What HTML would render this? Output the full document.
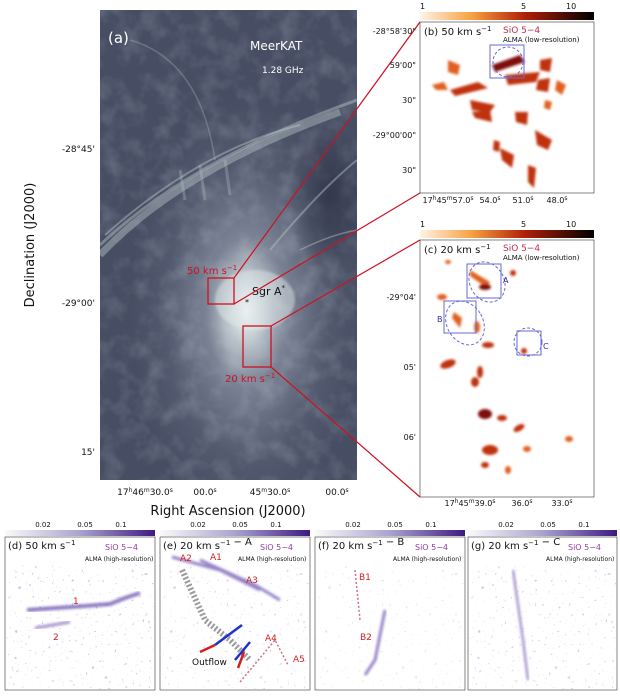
<!DOCTYPE html>
<html><head><meta charset="utf-8"><style>
body{margin:0;background:#fff;width:620px;height:692px;overflow:hidden;font-family:"Liberation Sans",sans-serif}
svg text{font-family:"DejaVu Sans","Liberation Sans",sans-serif}
</style></head><body>
<svg width="620" height="692" viewBox="0 0 620 692" xmlns="http://www.w3.org/2000/svg">
<defs>
<radialGradient id="glow" cx="0.57" cy="0.64" r="0.45">
<stop offset="0" stop-color="#eef3f3"/><stop offset="0.12" stop-color="#c8d2d6"/><stop offset="0.35" stop-color="#7a8294"/><stop offset="0.7" stop-color="#535a6f"/><stop offset="1" stop-color="#474d63"/>
</radialGradient>
<radialGradient id="dark" cx="0.5" cy="0.5" r="0.5"><stop offset="0" stop-color="#2a2f42" stop-opacity="0.75"/><stop offset="1" stop-color="#2a2f42" stop-opacity="0"/></radialGradient>
<linearGradient id="orng" x1="0" x2="1"><stop offset="0" stop-color="#fff4e6"/><stop offset="0.3" stop-color="#f7a040"/><stop offset="0.6" stop-color="#b02008"/><stop offset="1" stop-color="#000"/></linearGradient>
<linearGradient id="purp" x1="0" x2="1"><stop offset="0" stop-color="#fafafa"/><stop offset="0.5" stop-color="#a9a3d0"/><stop offset="1" stop-color="#3f1a80"/></linearGradient>
<filter id="tex" x="0" y="0" width="1" height="1"><feTurbulence type="fractalNoise" baseFrequency="0.05" numOctaves="3" seed="3"/><feColorMatrix values="0 0 0 0 0.8  0 0 0 0 0.86  0 0 0 0 0.9  0 0 0 1.2 -0.5"/></filter>
<filter id="spk" x="0" y="0" width="1" height="1"><feTurbulence type="fractalNoise" baseFrequency="0.3" numOctaves="2" seed="7"/><feColorMatrix values="0 0 0 0 0.45  0 0 0 0 0.4  0 0 0 0 0.75  0 0 0 9 -6.3"/></filter>
<filter id="bl"><feGaussianBlur stdDeviation="1.2"/></filter>
<clipPath id="ca"><rect x="100" y="10" width="257" height="470"/></clipPath>
</defs>
<!-- panel a -->
<rect x="100" y="10" width="257" height="470" fill="url(#glow)"/>
<g clip-path="url(#ca)">
<rect x="100" y="10" width="257" height="470" filter="url(#tex)" opacity="0.3"/>
<ellipse cx="330" cy="200" rx="40" ry="75" fill="url(#dark)"/>
<g fill="none" stroke="#b8c6c8" stroke-opacity="0.45">
<path d="M100 255 Q180 170 340 112" stroke-width="7"/>
<path d="M100 245 Q190 160 357 100" stroke-width="3"/>
<path d="M105 235 Q200 150 300 125" stroke-width="2"/>
<path d="M270 250 Q320 190 357 160" stroke-width="2"/>
<path d="M300 250 Q330 235 357 230" stroke-width="1.5"/>
<path d="M130 40 Q200 60 215 160" stroke-width="1.5" stroke-opacity="0.3"/>
<path d="M180 170 L185 200 M200 165 L205 200 M225 160 L230 195" stroke-width="3" stroke-opacity="0.3"/>
</g>
<ellipse cx="255" cy="300" rx="40" ry="30" fill="#e6eeee" opacity="0.45" filter="url(#bl)"/>
</g>
<text x="108" y="43" fill="#fff" font-size="15">(a)</text>
<text x="250" y="50" fill="#fff" font-size="12">MeerKAT</text>
<text x="262" y="73" fill="#fff" font-size="9">1.28 GHz</text>
<text x="252" y="295" fill="#111" font-size="11">Sgr A<tspan font-size="7" dy="-5">*</tspan></text>
<text x="245" y="305" fill="#111" font-size="8">*</text>
<text x="187" y="274" fill="#d01020" font-size="10">50 km s<tspan font-size="7" dy="-4">−1</tspan></text>
<text x="225" y="382" fill="#d01020" font-size="10">20 km s<tspan font-size="7" dy="-4">−1</tspan></text>
<rect x="208" y="278" width="26" height="26" fill="none" stroke="#d01020" stroke-width="1.3"/>
<rect x="243" y="326" width="28" height="41" fill="none" stroke="#d01020" stroke-width="1.3"/>
<g stroke="#d01020" stroke-width="1.2">
<line x1="234" y1="278" x2="420" y2="22"/><line x1="234" y1="304" x2="420" y2="193"/>
<line x1="271" y1="326" x2="420" y2="240"/><line x1="271" y1="367" x2="420" y2="497"/>
</g>
<g font-size="9" fill="#111">
<text x="95" y="152" text-anchor="end">-28°45'</text>
<text x="95" y="306" text-anchor="end">-29°00'</text>
<text x="95" y="455" text-anchor="end">15'</text>
<text x="145" y="495" text-anchor="middle">17<tspan font-size="6" dy="-3">h</tspan><tspan dy="3">46</tspan><tspan font-size="6" dy="-3">m</tspan><tspan dy="3">30.0</tspan><tspan font-size="6" dy="-3">s</tspan></text>
<text x="205" y="495" text-anchor="middle">00.0<tspan font-size="6" dy="-3">s</tspan></text>
<text x="270" y="495" text-anchor="middle">45<tspan font-size="6" dy="-3">m</tspan><tspan dy="3">30.0</tspan><tspan font-size="6" dy="-3">s</tspan></text>
<text x="337" y="495" text-anchor="middle">00.0<tspan font-size="6" dy="-3">s</tspan></text>
</g>
<text x="228" y="515" text-anchor="middle" font-size="13" fill="#111">Right Ascension (J2000)</text>
<text x="34" y="245" text-anchor="middle" font-size="13" fill="#111" transform="rotate(-90 34 245)">Declination (J2000)</text>
<!-- panel b -->
<rect x="420" y="12" width="174" height="8" fill="url(#orng)"/>
<g font-size="8" fill="#111"><text x="420" y="9">1</text><text x="521" y="9">5</text><text x="566" y="9">10</text></g>
<rect x="420" y="22" width="174" height="171" fill="#fff" stroke="#333" stroke-width="0.6"/>
<g fill="#c03010" filter="url(#bl)">
<path d="M492 65 L520 55 L525 62 L495 72Z" fill="#801008"/>
<path d="M450 90 L478 82 L488 88 L455 96Z"/><path d="M432 85 L444 82 L448 90 L436 90Z" fill="#e06020"/>
<path d="M470 100 L495 105 L490 112 L472 110Z"/><path d="M472 112 L490 110 L492 122 L475 118Z"/>
<path d="M515 112 L528 112 L527 125 L516 122Z"/><path d="M535 130 L552 140 L548 150 L537 145Z"/>
<path d="M500 148 L514 155 L512 168 L502 160Z"/><path d="M528 165 L536 168 L534 188 L528 182Z"/>
<path d="M448 60 L460 65 L458 75 L448 72Z" fill="#e06020"/><path d="M540 60 L552 58 L550 72 L540 70Z"/>
<path d="M505 75 L540 72 L536 82 L508 85Z"/><path d="M557 80 L566 85 L562 95 L555 90Z" fill="#e06020"/>
<path d="M538 80 L550 78 L548 92 L536 90Z"/><path d="M494 140 L500 142 L499 152 L493 150Z"/>
<path d="M545 100 L552 102 L550 110 L544 108Z" fill="#e06020"/>
</g>
<rect x="490" y="45" width="34" height="33" fill="none" stroke="#6a6ad0" stroke-width="1"/>
<circle cx="508" cy="62" r="15" fill="none" stroke="#6a6ad0" stroke-dasharray="3 2"/>
<text x="424" y="35" font-size="10" fill="#111">(b) 50 km s<tspan font-size="7" dy="-4">−1</tspan></text>
<text x="503" y="33" font-size="9" fill="#c03050">SiO 5−4</text>
<text x="503" y="42" font-size="7" fill="#111">ALMA (low-resolution)</text>
<g font-size="8" fill="#111">
<text x="416" y="34" text-anchor="end">-28°58'30"</text><text x="416" y="68" text-anchor="end">59'00"</text>
<text x="416" y="103" text-anchor="end">30"</text><text x="416" y="138" text-anchor="end">-29°00'00"</text>
<text x="416" y="173" text-anchor="end">30"</text>
<text x="448" y="203" text-anchor="middle">17<tspan font-size="6" dy="-3">h</tspan><tspan dy="3">45</tspan><tspan font-size="6" dy="-3">m</tspan><tspan dy="3">57.0</tspan><tspan font-size="6" dy="-3">s</tspan></text>
<text x="490" y="203" text-anchor="middle">54.0<tspan font-size="6" dy="-3">s</tspan></text>
<text x="523" y="203" text-anchor="middle">51.0<tspan font-size="6" dy="-3">s</tspan></text>
<text x="557" y="203" text-anchor="middle">48.0<tspan font-size="6" dy="-3">s</tspan></text>
</g>
<!-- panel c -->
<rect x="420" y="230" width="174" height="8" fill="url(#orng)"/>
<g font-size="8" fill="#111"><text x="420" y="227">1</text><text x="521" y="227">5</text><text x="566" y="227">10</text></g>
<rect x="420" y="240" width="174" height="257" fill="#fff" stroke="#333" stroke-width="0.6"/>
<g fill="#c03010" filter="url(#bl)">
<path d="M470 270 L490 282 L487 288 L470 276Z" fill="#e06020"/>
<ellipse cx="485" cy="287" rx="6" ry="3" fill="#801008"/>
<path d="M454 312 L462 318 L460 328 L452 318Z" fill="#e06020"/>
<ellipse cx="477" cy="327" rx="3" ry="6" fill="#e06020"/>
<ellipse cx="488" cy="345" rx="6" ry="3"/><ellipse cx="524" cy="351" rx="3" ry="3"/>
<ellipse cx="448" cy="364" rx="8" ry="4" transform="rotate(-20 448 364)"/>
<ellipse cx="480" cy="372" rx="3" ry="6"/><ellipse cx="475" cy="382" rx="4" ry="5"/>
<ellipse cx="442" cy="297" rx="5" ry="3" fill="#e06020"/><ellipse cx="448" cy="262" rx="3" ry="2" fill="#e06020"/>
<ellipse cx="513" cy="273" rx="3" ry="3"/>
<ellipse cx="485" cy="414" rx="7" ry="5" fill="#801008"/><ellipse cx="502" cy="418" rx="5" ry="3"/>
<ellipse cx="519" cy="428" rx="6" ry="3" transform="rotate(-30 519 428)"/>
<ellipse cx="490" cy="450" rx="8" ry="5"/><ellipse cx="527" cy="449" rx="4" ry="3" fill="#e06020"/>
<ellipse cx="569" cy="439" rx="4" ry="3" fill="#e06020"/>
<ellipse cx="485" cy="465" rx="4" ry="3"/><ellipse cx="508" cy="470" rx="3" ry="4" fill="#e06020"/>
</g>
<rect x="467" y="264" width="34" height="34" fill="none" stroke="#6a6ad0"/>
<ellipse cx="487" cy="282" rx="17" ry="21" transform="rotate(-30 487 282)" fill="none" stroke="#6a6ad0" stroke-dasharray="3 2"/>
<rect x="444" y="301" width="32" height="32" fill="none" stroke="#6a6ad0"/>
<ellipse cx="465" cy="323" rx="18" ry="23" transform="rotate(-30 465 323)" fill="none" stroke="#6a6ad0" stroke-dasharray="3 2"/>
<rect x="517" y="331" width="24" height="24" fill="none" stroke="#6a6ad0"/>
<circle cx="528" cy="342" r="14" fill="none" stroke="#6a6ad0" stroke-dasharray="3 2"/>
<g font-size="8" fill="#3030a0"><text x="503" y="283">A</text><text x="437" y="322">B</text><text x="543" y="349">C</text></g>
<text x="424" y="253" font-size="10" fill="#111">(c) 20 km s<tspan font-size="7" dy="-4">−1</tspan></text>
<text x="503" y="251" font-size="9" fill="#c03050">SiO 5−4</text>
<text x="503" y="260" font-size="7" fill="#111">ALMA (low-resolution)</text>
<g font-size="8" fill="#111">
<text x="416" y="300" text-anchor="end">-29°04'</text><text x="416" y="370" text-anchor="end">05'</text>
<text x="416" y="440" text-anchor="end">06'</text>
<text x="470" y="506" text-anchor="middle">17<tspan font-size="6" dy="-3">h</tspan><tspan dy="3">45</tspan><tspan font-size="6" dy="-3">m</tspan><tspan dy="3">39.0</tspan><tspan font-size="6" dy="-3">s</tspan></text>
<text x="522" y="506" text-anchor="middle">36.0<tspan font-size="6" dy="-3">s</tspan></text>
<text x="562" y="506" text-anchor="middle">33.0<tspan font-size="6" dy="-3">s</tspan></text>
</g>
<!-- bottom panels -->
<g font-size="7" fill="#111">
<g transform="translate(5,0)">
<rect x="0" y="530" width="150" height="6" fill="url(#purp)"/>
<text x="38" y="527" text-anchor="middle">0.02</text><text x="80" y="527" text-anchor="middle">0.05</text><text x="116" y="527" text-anchor="middle">0.1</text>
<rect x="0" y="537" width="150" height="153" fill="#fff" stroke="#333" stroke-width="0.6"/>
<rect x="1" y="565" width="148" height="124" filter="url(#spk)" opacity="0.7"/>
<path d="M22 610 L80 606 L105 604 L120 598 L135 593" stroke="#6a50b0" stroke-width="4" fill="none" opacity="0.75" filter="url(#bl)"/>
<path d="M30 628 L65 622" stroke="#6a50b0" stroke-width="3" fill="none" opacity="0.6" filter="url(#bl)"/>
<text x="3" y="549" font-size="10">(d) 50 km s<tspan font-size="7" dy="-4">−1</tspan></text>
<text x="100" y="550" font-size="8" fill="#9040a0">SiO 5−4</text>
<text x="80" y="561" font-size="6">ALMA (high-resolution)</text>
<text x="68" y="604" font-size="9" fill="#d02020">1</text><text x="48" y="640" font-size="9" fill="#d02020">2</text>
</g>
<g transform="translate(160,0)">
<rect x="0" y="530" width="150" height="6" fill="url(#purp)"/>
<text x="38" y="527" text-anchor="middle">0.02</text><text x="80" y="527" text-anchor="middle">0.05</text><text x="116" y="527" text-anchor="middle">0.1</text>
<rect x="0" y="537" width="150" height="153" fill="#fff" stroke="#333" stroke-width="0.6"/>
<rect x="1" y="565" width="148" height="124" filter="url(#spk)" opacity="0.5"/>
<path d="M12 557 L60 570 L100 590 M40 560 L95 585 L120 600" stroke="#6a50b0" stroke-width="3" fill="none" opacity="0.7" filter="url(#bl)"/>
<path d="M22 570 L45 620 L70 640 L90 660" stroke="#222" stroke-width="6" fill="none" opacity="0.45" stroke-dasharray="2 2"/>
<path d="M55 645 L82 625 M75 660 L90 642" stroke="#2030d0" stroke-width="2.5"/>
<path d="M55 645 L40 652 M78 668 L84 652" stroke="#d02020" stroke-width="2.5"/>
<path d="M80 682 L115 640 L128 665" stroke="#d07080" stroke-width="1.5" stroke-dasharray="2 2" fill="none"/>
<text x="3" y="549" font-size="10">(e) 20 km s<tspan font-size="7" dy="-4">−1</tspan> − A</text>
<text x="100" y="550" font-size="8" fill="#9040a0">SiO 5−4</text>
<text x="78" y="561" font-size="6">ALMA (high-resolution)</text>
<g font-size="9" fill="#d02020"><text x="20" y="561">A2</text><text x="50" y="560">A1</text><text x="86" y="583">A3</text><text x="105" y="641">A4</text><text x="133" y="662">A5</text></g>
<text x="32" y="665" font-size="9">Outflow</text>
</g>
<g transform="translate(315,0)">
<rect x="0" y="530" width="150" height="6" fill="url(#purp)"/>
<text x="38" y="527" text-anchor="middle">0.02</text><text x="80" y="527" text-anchor="middle">0.05</text><text x="116" y="527" text-anchor="middle">0.1</text>
<rect x="0" y="537" width="150" height="153" fill="#fff" stroke="#333" stroke-width="0.6"/>
<rect x="1" y="565" width="148" height="124" filter="url(#spk)" opacity="0.3"/>
<path d="M40 570 L45 620" stroke="#d07080" stroke-width="1.5" stroke-dasharray="2 2"/>
<path d="M70 610 L60 660 L50 675" stroke="#6a50b0" stroke-width="3" fill="none" opacity="0.7" filter="url(#bl)"/>
<text x="3" y="549" font-size="10">(f) 20 km s<tspan font-size="7" dy="-4">−1</tspan> − B</text>
<text x="100" y="550" font-size="8" fill="#9040a0">SiO 5−4</text>
<text x="78" y="561" font-size="6">ALMA (high-resolution)</text>
<g font-size="9" fill="#d02020"><text x="44" y="580">B1</text><text x="45" y="640">B2</text></g>
</g>
<g transform="translate(468,0)">
<rect x="0" y="530" width="149" height="6" fill="url(#purp)"/>
<text x="38" y="527" text-anchor="middle">0.02</text><text x="80" y="527" text-anchor="middle">0.05</text><text x="116" y="527" text-anchor="middle">0.1</text>
<rect x="0" y="537" width="149" height="153" fill="#fff" stroke="#333" stroke-width="0.6"/>
<rect x="1" y="565" width="147" height="124" filter="url(#spk)" opacity="0.6"/>
<path d="M45 570 L55 640 L60 680" stroke="#6a50b0" stroke-width="2.5" fill="none" opacity="0.6" filter="url(#bl)"/>
<text x="3" y="549" font-size="10">(g) 20 km s<tspan font-size="7" dy="-4">−1</tspan> − C</text>
<text x="100" y="550" font-size="8" fill="#9040a0">SiO 5−4</text>
<text x="78" y="561" font-size="6">ALMA (high-resolution)</text>
</g>
</g>
</svg>
</body></html>
